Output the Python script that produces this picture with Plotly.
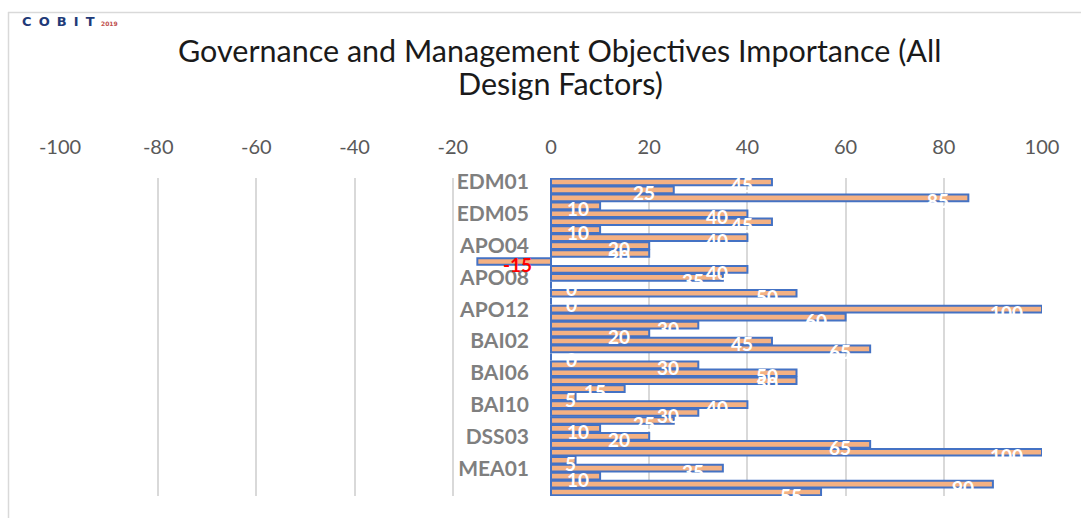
import plotly.graph_objects as go

categories = [
    "EDM01", "EDM02", "EDM03", "EDM04", "EDM05",
    "APO01", "APO02", "APO03", "APO04", "APO05", "APO06", "APO07",
    "APO08", "APO09", "APO10", "APO11", "APO12", "APO13", "APO14",
    "BAI01", "BAI02", "BAI03", "BAI04", "BAI05", "BAI06", "BAI07",
    "BAI08", "BAI09", "BAI10", "BAI11",
    "DSS01", "DSS02", "DSS03", "DSS04", "DSS05", "DSS06",
    "MEA01", "MEA02", "MEA03", "MEA04",
]
importance = [
    45, 25, 85, 10, 40,
    45, 10, 40, 20, 20, -15, 40,
    35, 0, 50, 0, 100, 60, 30,
    20, 45, 65, 0, 30, 50, 50,
    15, 5, 40, 30,
    25, 10, 20, 65, 100, 5,
    35, 10, 90, 55,
]
shown_labels = ["EDM01", "EDM05", "APO04", "APO08", "APO12",
                "BAI02", "BAI06", "BAI10", "DSS03", "MEA01"]
x_ticks = [-100, -80, -60, -40, -20, 0, 20, 40, 60, 80, 100]
x_tick_text = ["-100", "-80", "-60", "-40", "-20", "0", "20", "40", "60", "80", "100"]

W, H = 1081, 518
L, R, T, B = 60, 1081 - 1042, 178, 518 - 496
pw = W - L - R
ph = H - T - B

fig = go.Figure()
fig.add_trace(go.Bar(
    x=importance, y=categories, orientation="h",
    marker=dict(color="#F4B183", line=dict(color="#4472C4", width=2)),
    hoverinfo="x+y", showlegend=False,
))

def label_shift(v):
    if v < 0:
        return "left", 24
    if v == 0:
        return "right", 28
    if v <= 5:
        return "right", 2
    if v <= 10:
        return "right", -9
    return "right", -17

for c, v in zip(categories, importance):
    anchor, sh = label_shift(v)
    fig.add_annotation(
        x=v, y=c, text=str(v), showarrow=False,
        xanchor=anchor, xshift=sh, yshift=-3,
        font=dict(family="Lato", size=19,
                  color="#FF0000" if v < 0 else "#FFFFFF", weight="bold"),
    )

def px_x(px):
    return (px - L) / pw

def px_y(py):
    return (H - B - py) / ph

# COBIT logo text
sp = "&nbsp;&#8201;"
fig.add_annotation(
    xref="paper", yref="paper", x=px_x(20), y=px_y(21.5),
    text="<b>" + sp.join("COBIT") + "</b>",
    showarrow=False, xanchor="left", yanchor="middle",
    font=dict(family="DejaVu Sans", size=13, color="#1F3A78"),
)
fig.add_annotation(
    xref="paper", yref="paper", x=px_x(99), y=px_y(23),
    text="<b>2019</b>", showarrow=False, xanchor="left", yanchor="middle",
    font=dict(family="DejaVu Sans", size=6, color="#C0504D"),
)

# title, two centered lines
fig.add_annotation(
    xref="paper", yref="paper", x=px_x(559), y=px_y(50),
    text="Governance and Management Objectives Importance (All",
    showarrow=False, xanchor="center", yanchor="middle",
    font=dict(family="Lato", size=30.5, color="#1A1A1A"),
)
fig.add_annotation(
    xref="paper", yref="paper", x=px_x(560), y=px_y(83),
    text="Design Factors)",
    showarrow=False, xanchor="center", yanchor="middle",
    font=dict(family="Lato", size=30.5, color="#1A1A1A"),
)

# outer chart border (top and left)
fig.add_shape(type="line", xref="paper", yref="paper",
              x0=px_x(8), x1=px_x(W),
              y0=px_y(12.5), y1=px_y(12.5),
              line=dict(color="#D9D9D9", width=1.5))
fig.add_shape(type="line", xref="paper", yref="paper",
              x0=px_x(8.5), x1=px_x(8.5),
              y0=px_y(12), y1=px_y(H),
              line=dict(color="#D9D9D9", width=1.5))

n = len(categories)
fig.update_layout(
    width=W, height=H,
    margin=dict(l=L, r=R, t=T, b=B, autoexpand=False),
    paper_bgcolor="white", plot_bgcolor="white",
    bargap=0.16,
    xaxis=dict(
        range=[-100, 100], side="top", tickvals=x_ticks, ticktext=x_tick_text,
        showgrid=True, gridcolor="#D9D9D9", gridwidth=1.5,
        zeroline=True, zerolinecolor="#D9D9D9", zerolinewidth=1.5,
        tickfont=dict(family="Lato", size=20, color="#595959"),
        ticks="", ticklabelstandoff=19, showline=False, automargin=False,
    ),
    yaxis=dict(
        type="category", categoryorder="array", categoryarray=categories,
        range=[n - 0.5, -0.5], autorange=False, tickvals=shown_labels,
        anchor="free", position=px_x(551),
        showgrid=False, zeroline=False, showline=False, ticks="",
        ticklabelstandoff=22, automargin=False,
        tickfont=dict(family="Lato", size=21, color="#7F7F7F", weight="bold"),
    ),
)

fig.write_html("out.html", config={"displayModeBar": False},
               post_script="document.body.style.margin='0';")
